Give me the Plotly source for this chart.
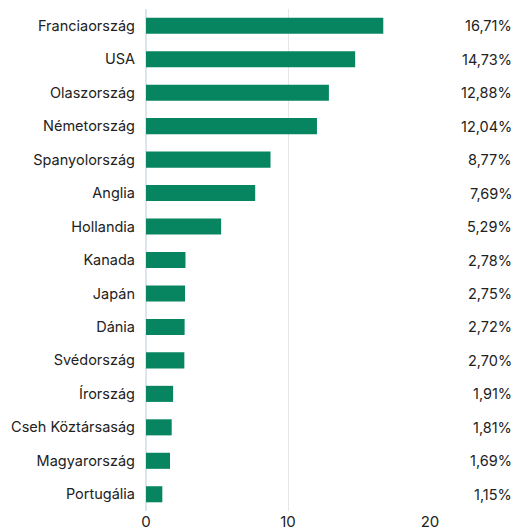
import plotly.graph_objects as go

countries = ["Franciaország", "USA", "Olaszország", "Németország", "Spanyolország",
             "Anglia", "Hollandia", "Kanada", "Japán", "Dánia", "Svédország",
             "Írország", "Cseh Köztársaság", "Magyarország", "Portugália"]
values = [16.71, 14.73, 12.88, 12.04, 8.77, 7.69, 5.29, 2.78, 2.75, 2.72, 2.70,
          1.91, 1.81, 1.69, 1.15]
labels = [f"{v:.2f}".replace(".", ",") + "%" for v in values]

font_family = "Inter, Roboto, sans-serif"
text_color = "#222222"

fig = go.Figure(go.Bar(
    x=values, y=countries, orientation="h",
    marker=dict(color="#078560", line=dict(width=0)),
    width=0.48, hoverinfo="skip",
))

L, R = 146, 515 - 430
for c, lab in zip(countries, labels):
    fig.add_annotation(x=1 + 84 / 284, xref="paper", y=c, yref="y", text=lab,
                       showarrow=False, xanchor="right",
                       font=dict(family=font_family, size=14.5, color=text_color))

fig.update_layout(
    width=515, height=531,
    margin=dict(l=L, r=R, t=9, b=20, autoexpand=False),
    plot_bgcolor="white", paper_bgcolor="white",
    showlegend=False,
    xaxis=dict(range=[0, 20], tickvals=[0, 10, 20], showgrid=True,
               gridcolor="#e6e6e6", gridwidth=1, zeroline=True,
               zerolinecolor="#dde4ec", zerolinewidth=2,
               showline=False, ticks="", ticklen=0, automargin=False,
               tickfont=dict(family=font_family, size=15, color=text_color),
               fixedrange=True),
    yaxis=dict(categoryorder="array", categoryarray=countries, autorange="reversed",
               showgrid=False, ticks="", showline=False, automargin=False,
               ticklabelstandoff=10,
               tickfont=dict(family=font_family, size=14.5, color=text_color),
               fixedrange=True),
    font=dict(family=font_family),
)

fig.write_html("out.html", config={"displayModeBar": False},
               post_script="document.body.style.margin='0';document.body.style.overflow='hidden';")
